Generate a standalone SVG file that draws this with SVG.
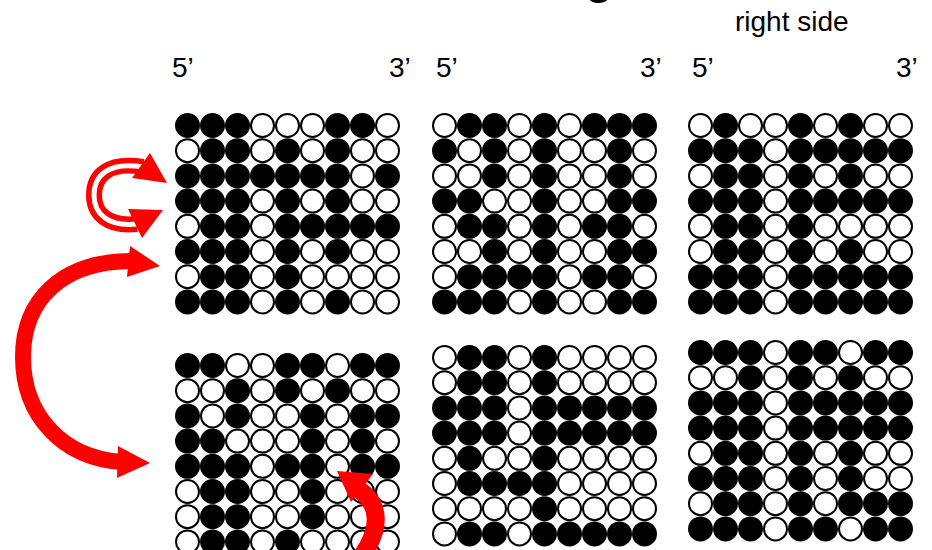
<svg xmlns="http://www.w3.org/2000/svg" width="932" height="550" viewBox="0 0 932 550">
<style>
.b{fill:#000;stroke:#000;stroke-width:2}
.w{fill:#fff;stroke:#000;stroke-width:2}
.lbl{font-family:"Liberation Sans",Arial,sans-serif;font-size:28px;fill:#000}
.arr{fill:none;stroke:#ff0000}
.head{fill:#ff0000}
</style>
<rect width="932" height="550" fill="#fff"/>
<text class="lbl" x="585" y="-7" style="font-size:46px;font-weight:bold">g</text>
<g id="labels">
<text class="lbl" x="735" y="31">right side</text>
<text class="lbl" x="172" y="77">5’</text>
<text class="lbl" x="389" y="77">3’</text>
<text class="lbl" x="436" y="77">5’</text>
<text class="lbl" x="640" y="77">3’</text>
<text class="lbl" x="692" y="77">5’</text>
<text class="lbl" x="896" y="77">3’</text>
</g>
<g id="grid1" transform="translate(187.5,125.5)">
<circle class="b" cx="0" cy="0" r="11.5"/><circle class="b" cx="25" cy="0" r="11.5"/><circle class="b" cx="50" cy="0" r="11.5"/><circle class="w" cx="75" cy="0" r="11.5"/><circle class="w" cx="100" cy="0" r="11.5"/><circle class="w" cx="125" cy="0" r="11.5"/><circle class="b" cx="150" cy="0" r="11.5"/><circle class="b" cx="175" cy="0" r="11.5"/><circle class="w" cx="200" cy="0" r="11.5"/>
<circle class="w" cx="0" cy="25.2" r="11.5"/><circle class="b" cx="25" cy="25.2" r="11.5"/><circle class="b" cx="50" cy="25.2" r="11.5"/><circle class="w" cx="75" cy="25.2" r="11.5"/><circle class="b" cx="100" cy="25.2" r="11.5"/><circle class="w" cx="125" cy="25.2" r="11.5"/><circle class="b" cx="150" cy="25.2" r="11.5"/><circle class="w" cx="175" cy="25.2" r="11.5"/><circle class="w" cx="200" cy="25.2" r="11.5"/>
<circle class="b" cx="0" cy="50.4" r="11.5"/><circle class="b" cx="25" cy="50.4" r="11.5"/><circle class="b" cx="50" cy="50.4" r="11.5"/><circle class="b" cx="75" cy="50.4" r="11.5"/><circle class="b" cx="100" cy="50.4" r="11.5"/><circle class="b" cx="125" cy="50.4" r="11.5"/><circle class="b" cx="150" cy="50.4" r="11.5"/><circle class="w" cx="175" cy="50.4" r="11.5"/><circle class="b" cx="200" cy="50.4" r="11.5"/>
<circle class="b" cx="0" cy="75.6" r="11.5"/><circle class="b" cx="25" cy="75.6" r="11.5"/><circle class="b" cx="50" cy="75.6" r="11.5"/><circle class="w" cx="75" cy="75.6" r="11.5"/><circle class="b" cx="100" cy="75.6" r="11.5"/><circle class="w" cx="125" cy="75.6" r="11.5"/><circle class="b" cx="150" cy="75.6" r="11.5"/><circle class="w" cx="175" cy="75.6" r="11.5"/><circle class="w" cx="200" cy="75.6" r="11.5"/>
<circle class="w" cx="0" cy="100.8" r="11.5"/><circle class="b" cx="25" cy="100.8" r="11.5"/><circle class="b" cx="50" cy="100.8" r="11.5"/><circle class="w" cx="75" cy="100.8" r="11.5"/><circle class="b" cx="100" cy="100.8" r="11.5"/><circle class="b" cx="125" cy="100.8" r="11.5"/><circle class="b" cx="150" cy="100.8" r="11.5"/><circle class="b" cx="175" cy="100.8" r="11.5"/><circle class="b" cx="200" cy="100.8" r="11.5"/>
<circle class="b" cx="0" cy="126" r="11.5"/><circle class="b" cx="25" cy="126" r="11.5"/><circle class="b" cx="50" cy="126" r="11.5"/><circle class="w" cx="75" cy="126" r="11.5"/><circle class="b" cx="100" cy="126" r="11.5"/><circle class="w" cx="125" cy="126" r="11.5"/><circle class="b" cx="150" cy="126" r="11.5"/><circle class="w" cx="175" cy="126" r="11.5"/><circle class="w" cx="200" cy="126" r="11.5"/>
<circle class="w" cx="0" cy="151.2" r="11.5"/><circle class="b" cx="25" cy="151.2" r="11.5"/><circle class="b" cx="50" cy="151.2" r="11.5"/><circle class="w" cx="75" cy="151.2" r="11.5"/><circle class="b" cx="100" cy="151.2" r="11.5"/><circle class="w" cx="125" cy="151.2" r="11.5"/><circle class="w" cx="150" cy="151.2" r="11.5"/><circle class="w" cx="175" cy="151.2" r="11.5"/><circle class="w" cx="200" cy="151.2" r="11.5"/>
<circle class="b" cx="0" cy="176.4" r="11.5"/><circle class="b" cx="25" cy="176.4" r="11.5"/><circle class="b" cx="50" cy="176.4" r="11.5"/><circle class="w" cx="75" cy="176.4" r="11.5"/><circle class="b" cx="100" cy="176.4" r="11.5"/><circle class="w" cx="125" cy="176.4" r="11.5"/><circle class="b" cx="150" cy="176.4" r="11.5"/><circle class="w" cx="175" cy="176.4" r="11.5"/><circle class="w" cx="200" cy="176.4" r="11.5"/>
</g>
<g id="grid2" transform="translate(444.5,125.5)">
<circle class="w" cx="0" cy="0" r="11.5"/><circle class="b" cx="25" cy="0" r="11.5"/><circle class="b" cx="50" cy="0" r="11.5"/><circle class="w" cx="75" cy="0" r="11.5"/><circle class="b" cx="100" cy="0" r="11.5"/><circle class="w" cx="125" cy="0" r="11.5"/><circle class="b" cx="150" cy="0" r="11.5"/><circle class="b" cx="175" cy="0" r="11.5"/><circle class="b" cx="200" cy="0" r="11.5"/>
<circle class="b" cx="0" cy="25.2" r="11.5"/><circle class="w" cx="25" cy="25.2" r="11.5"/><circle class="b" cx="50" cy="25.2" r="11.5"/><circle class="w" cx="75" cy="25.2" r="11.5"/><circle class="b" cx="100" cy="25.2" r="11.5"/><circle class="w" cx="125" cy="25.2" r="11.5"/><circle class="w" cx="150" cy="25.2" r="11.5"/><circle class="b" cx="175" cy="25.2" r="11.5"/><circle class="w" cx="200" cy="25.2" r="11.5"/>
<circle class="w" cx="0" cy="50.4" r="11.5"/><circle class="w" cx="25" cy="50.4" r="11.5"/><circle class="b" cx="50" cy="50.4" r="11.5"/><circle class="w" cx="75" cy="50.4" r="11.5"/><circle class="b" cx="100" cy="50.4" r="11.5"/><circle class="w" cx="125" cy="50.4" r="11.5"/><circle class="w" cx="150" cy="50.4" r="11.5"/><circle class="b" cx="175" cy="50.4" r="11.5"/><circle class="w" cx="200" cy="50.4" r="11.5"/>
<circle class="b" cx="0" cy="75.6" r="11.5"/><circle class="b" cx="25" cy="75.6" r="11.5"/><circle class="w" cx="50" cy="75.6" r="11.5"/><circle class="w" cx="75" cy="75.6" r="11.5"/><circle class="b" cx="100" cy="75.6" r="11.5"/><circle class="w" cx="125" cy="75.6" r="11.5"/><circle class="w" cx="150" cy="75.6" r="11.5"/><circle class="b" cx="175" cy="75.6" r="11.5"/><circle class="b" cx="200" cy="75.6" r="11.5"/>
<circle class="w" cx="0" cy="100.8" r="11.5"/><circle class="b" cx="25" cy="100.8" r="11.5"/><circle class="b" cx="50" cy="100.8" r="11.5"/><circle class="w" cx="75" cy="100.8" r="11.5"/><circle class="b" cx="100" cy="100.8" r="11.5"/><circle class="w" cx="125" cy="100.8" r="11.5"/><circle class="b" cx="150" cy="100.8" r="11.5"/><circle class="b" cx="175" cy="100.8" r="11.5"/><circle class="w" cx="200" cy="100.8" r="11.5"/>
<circle class="w" cx="0" cy="126" r="11.5"/><circle class="w" cx="25" cy="126" r="11.5"/><circle class="b" cx="50" cy="126" r="11.5"/><circle class="w" cx="75" cy="126" r="11.5"/><circle class="b" cx="100" cy="126" r="11.5"/><circle class="w" cx="125" cy="126" r="11.5"/><circle class="w" cx="150" cy="126" r="11.5"/><circle class="b" cx="175" cy="126" r="11.5"/><circle class="b" cx="200" cy="126" r="11.5"/>
<circle class="w" cx="0" cy="151.2" r="11.5"/><circle class="b" cx="25" cy="151.2" r="11.5"/><circle class="b" cx="50" cy="151.2" r="11.5"/><circle class="b" cx="75" cy="151.2" r="11.5"/><circle class="b" cx="100" cy="151.2" r="11.5"/><circle class="w" cx="125" cy="151.2" r="11.5"/><circle class="b" cx="150" cy="151.2" r="11.5"/><circle class="b" cx="175" cy="151.2" r="11.5"/><circle class="w" cx="200" cy="151.2" r="11.5"/>
<circle class="b" cx="0" cy="176.4" r="11.5"/><circle class="b" cx="25" cy="176.4" r="11.5"/><circle class="b" cx="50" cy="176.4" r="11.5"/><circle class="w" cx="75" cy="176.4" r="11.5"/><circle class="b" cx="100" cy="176.4" r="11.5"/><circle class="w" cx="125" cy="176.4" r="11.5"/><circle class="w" cx="150" cy="176.4" r="11.5"/><circle class="b" cx="175" cy="176.4" r="11.5"/><circle class="b" cx="200" cy="176.4" r="11.5"/>
</g>
<g id="grid3" transform="translate(700.5,125.5)">
<circle class="w" cx="0" cy="0" r="11.5"/><circle class="b" cx="25" cy="0" r="11.5"/><circle class="w" cx="50" cy="0" r="11.5"/><circle class="w" cx="75" cy="0" r="11.5"/><circle class="b" cx="100" cy="0" r="11.5"/><circle class="w" cx="125" cy="0" r="11.5"/><circle class="b" cx="150" cy="0" r="11.5"/><circle class="w" cx="175" cy="0" r="11.5"/><circle class="w" cx="200" cy="0" r="11.5"/>
<circle class="b" cx="0" cy="25.2" r="11.5"/><circle class="b" cx="25" cy="25.2" r="11.5"/><circle class="b" cx="50" cy="25.2" r="11.5"/><circle class="w" cx="75" cy="25.2" r="11.5"/><circle class="b" cx="100" cy="25.2" r="11.5"/><circle class="b" cx="125" cy="25.2" r="11.5"/><circle class="b" cx="150" cy="25.2" r="11.5"/><circle class="b" cx="175" cy="25.2" r="11.5"/><circle class="b" cx="200" cy="25.2" r="11.5"/>
<circle class="w" cx="0" cy="50.4" r="11.5"/><circle class="b" cx="25" cy="50.4" r="11.5"/><circle class="b" cx="50" cy="50.4" r="11.5"/><circle class="w" cx="75" cy="50.4" r="11.5"/><circle class="b" cx="100" cy="50.4" r="11.5"/><circle class="w" cx="125" cy="50.4" r="11.5"/><circle class="b" cx="150" cy="50.4" r="11.5"/><circle class="w" cx="175" cy="50.4" r="11.5"/><circle class="w" cx="200" cy="50.4" r="11.5"/>
<circle class="b" cx="0" cy="75.6" r="11.5"/><circle class="b" cx="25" cy="75.6" r="11.5"/><circle class="b" cx="50" cy="75.6" r="11.5"/><circle class="w" cx="75" cy="75.6" r="11.5"/><circle class="b" cx="100" cy="75.6" r="11.5"/><circle class="b" cx="125" cy="75.6" r="11.5"/><circle class="b" cx="150" cy="75.6" r="11.5"/><circle class="b" cx="175" cy="75.6" r="11.5"/><circle class="b" cx="200" cy="75.6" r="11.5"/>
<circle class="w" cx="0" cy="100.8" r="11.5"/><circle class="b" cx="25" cy="100.8" r="11.5"/><circle class="b" cx="50" cy="100.8" r="11.5"/><circle class="w" cx="75" cy="100.8" r="11.5"/><circle class="b" cx="100" cy="100.8" r="11.5"/><circle class="w" cx="125" cy="100.8" r="11.5"/><circle class="w" cx="150" cy="100.8" r="11.5"/><circle class="w" cx="175" cy="100.8" r="11.5"/><circle class="w" cx="200" cy="100.8" r="11.5"/>
<circle class="w" cx="0" cy="126" r="11.5"/><circle class="b" cx="25" cy="126" r="11.5"/><circle class="b" cx="50" cy="126" r="11.5"/><circle class="w" cx="75" cy="126" r="11.5"/><circle class="b" cx="100" cy="126" r="11.5"/><circle class="w" cx="125" cy="126" r="11.5"/><circle class="b" cx="150" cy="126" r="11.5"/><circle class="w" cx="175" cy="126" r="11.5"/><circle class="w" cx="200" cy="126" r="11.5"/>
<circle class="b" cx="0" cy="151.2" r="11.5"/><circle class="b" cx="25" cy="151.2" r="11.5"/><circle class="b" cx="50" cy="151.2" r="11.5"/><circle class="w" cx="75" cy="151.2" r="11.5"/><circle class="b" cx="100" cy="151.2" r="11.5"/><circle class="b" cx="125" cy="151.2" r="11.5"/><circle class="b" cx="150" cy="151.2" r="11.5"/><circle class="b" cx="175" cy="151.2" r="11.5"/><circle class="b" cx="200" cy="151.2" r="11.5"/>
<circle class="b" cx="0" cy="176.4" r="11.5"/><circle class="b" cx="25" cy="176.4" r="11.5"/><circle class="b" cx="50" cy="176.4" r="11.5"/><circle class="w" cx="75" cy="176.4" r="11.5"/><circle class="b" cx="100" cy="176.4" r="11.5"/><circle class="b" cx="125" cy="176.4" r="11.5"/><circle class="b" cx="150" cy="176.4" r="11.5"/><circle class="b" cx="175" cy="176.4" r="11.5"/><circle class="b" cx="200" cy="176.4" r="11.5"/>
</g>
<g id="grid4" transform="translate(187.5,365.5)">
<circle class="b" cx="0" cy="0" r="11.5"/><circle class="b" cx="25" cy="0" r="11.5"/><circle class="w" cx="50" cy="0" r="11.5"/><circle class="w" cx="75" cy="0" r="11.5"/><circle class="b" cx="100" cy="0" r="11.5"/><circle class="b" cx="125" cy="0" r="11.5"/><circle class="w" cx="150" cy="0" r="11.5"/><circle class="b" cx="175" cy="0" r="11.5"/><circle class="b" cx="200" cy="0" r="11.5"/>
<circle class="w" cx="0" cy="25.2" r="11.5"/><circle class="w" cx="25" cy="25.2" r="11.5"/><circle class="b" cx="50" cy="25.2" r="11.5"/><circle class="w" cx="75" cy="25.2" r="11.5"/><circle class="b" cx="100" cy="25.2" r="11.5"/><circle class="w" cx="125" cy="25.2" r="11.5"/><circle class="b" cx="150" cy="25.2" r="11.5"/><circle class="w" cx="175" cy="25.2" r="11.5"/><circle class="w" cx="200" cy="25.2" r="11.5"/>
<circle class="b" cx="0" cy="50.4" r="11.5"/><circle class="w" cx="25" cy="50.4" r="11.5"/><circle class="b" cx="50" cy="50.4" r="11.5"/><circle class="w" cx="75" cy="50.4" r="11.5"/><circle class="w" cx="100" cy="50.4" r="11.5"/><circle class="b" cx="125" cy="50.4" r="11.5"/><circle class="w" cx="150" cy="50.4" r="11.5"/><circle class="b" cx="175" cy="50.4" r="11.5"/><circle class="b" cx="200" cy="50.4" r="11.5"/>
<circle class="b" cx="0" cy="75.6" r="11.5"/><circle class="b" cx="25" cy="75.6" r="11.5"/><circle class="w" cx="50" cy="75.6" r="11.5"/><circle class="w" cx="75" cy="75.6" r="11.5"/><circle class="w" cx="100" cy="75.6" r="11.5"/><circle class="b" cx="125" cy="75.6" r="11.5"/><circle class="w" cx="150" cy="75.6" r="11.5"/><circle class="b" cx="175" cy="75.6" r="11.5"/><circle class="w" cx="200" cy="75.6" r="11.5"/>
<circle class="b" cx="0" cy="100.8" r="11.5"/><circle class="b" cx="25" cy="100.8" r="11.5"/><circle class="b" cx="50" cy="100.8" r="11.5"/><circle class="w" cx="75" cy="100.8" r="11.5"/><circle class="b" cx="100" cy="100.8" r="11.5"/><circle class="b" cx="125" cy="100.8" r="11.5"/><circle class="w" cx="150" cy="100.8" r="11.5"/><circle class="b" cx="175" cy="100.8" r="11.5"/><circle class="b" cx="200" cy="100.8" r="11.5"/>
<circle class="w" cx="0" cy="126" r="11.5"/><circle class="b" cx="25" cy="126" r="11.5"/><circle class="b" cx="50" cy="126" r="11.5"/><circle class="w" cx="75" cy="126" r="11.5"/><circle class="w" cx="100" cy="126" r="11.5"/><circle class="b" cx="125" cy="126" r="11.5"/><circle class="w" cx="150" cy="126" r="11.5"/><circle class="w" cx="175" cy="126" r="11.5"/><circle class="w" cx="200" cy="126" r="11.5"/>
<circle class="w" cx="0" cy="151.2" r="11.5"/><circle class="b" cx="25" cy="151.2" r="11.5"/><circle class="b" cx="50" cy="151.2" r="11.5"/><circle class="w" cx="75" cy="151.2" r="11.5"/><circle class="w" cx="100" cy="151.2" r="11.5"/><circle class="b" cx="125" cy="151.2" r="11.5"/><circle class="w" cx="150" cy="151.2" r="11.5"/><circle class="w" cx="175" cy="151.2" r="11.5"/><circle class="w" cx="200" cy="151.2" r="11.5"/>
<circle class="w" cx="0" cy="176.4" r="11.5"/><circle class="b" cx="25" cy="176.4" r="11.5"/><circle class="b" cx="50" cy="176.4" r="11.5"/><circle class="w" cx="75" cy="176.4" r="11.5"/><circle class="b" cx="100" cy="176.4" r="11.5"/><circle class="w" cx="125" cy="176.4" r="11.5"/><circle class="w" cx="150" cy="176.4" r="11.5"/><circle class="w" cx="175" cy="176.4" r="11.5"/><circle class="w" cx="200" cy="176.4" r="11.5"/>
</g>
<g id="grid5" transform="translate(444.5,357.5)">
<circle class="w" cx="0" cy="0" r="11.5"/><circle class="b" cx="25" cy="0" r="11.5"/><circle class="b" cx="50" cy="0" r="11.5"/><circle class="w" cx="75" cy="0" r="11.5"/><circle class="b" cx="100" cy="0" r="11.5"/><circle class="w" cx="125" cy="0" r="11.5"/><circle class="w" cx="150" cy="0" r="11.5"/><circle class="w" cx="175" cy="0" r="11.5"/><circle class="w" cx="200" cy="0" r="11.5"/>
<circle class="w" cx="0" cy="25.2" r="11.5"/><circle class="b" cx="25" cy="25.2" r="11.5"/><circle class="b" cx="50" cy="25.2" r="11.5"/><circle class="w" cx="75" cy="25.2" r="11.5"/><circle class="b" cx="100" cy="25.2" r="11.5"/><circle class="w" cx="125" cy="25.2" r="11.5"/><circle class="w" cx="150" cy="25.2" r="11.5"/><circle class="w" cx="175" cy="25.2" r="11.5"/><circle class="w" cx="200" cy="25.2" r="11.5"/>
<circle class="b" cx="0" cy="50.4" r="11.5"/><circle class="b" cx="25" cy="50.4" r="11.5"/><circle class="b" cx="50" cy="50.4" r="11.5"/><circle class="w" cx="75" cy="50.4" r="11.5"/><circle class="b" cx="100" cy="50.4" r="11.5"/><circle class="b" cx="125" cy="50.4" r="11.5"/><circle class="b" cx="150" cy="50.4" r="11.5"/><circle class="b" cx="175" cy="50.4" r="11.5"/><circle class="b" cx="200" cy="50.4" r="11.5"/>
<circle class="b" cx="0" cy="75.6" r="11.5"/><circle class="b" cx="25" cy="75.6" r="11.5"/><circle class="b" cx="50" cy="75.6" r="11.5"/><circle class="w" cx="75" cy="75.6" r="11.5"/><circle class="b" cx="100" cy="75.6" r="11.5"/><circle class="b" cx="125" cy="75.6" r="11.5"/><circle class="b" cx="150" cy="75.6" r="11.5"/><circle class="b" cx="175" cy="75.6" r="11.5"/><circle class="b" cx="200" cy="75.6" r="11.5"/>
<circle class="w" cx="0" cy="100.8" r="11.5"/><circle class="b" cx="25" cy="100.8" r="11.5"/><circle class="w" cx="50" cy="100.8" r="11.5"/><circle class="w" cx="75" cy="100.8" r="11.5"/><circle class="b" cx="100" cy="100.8" r="11.5"/><circle class="w" cx="125" cy="100.8" r="11.5"/><circle class="w" cx="150" cy="100.8" r="11.5"/><circle class="w" cx="175" cy="100.8" r="11.5"/><circle class="w" cx="200" cy="100.8" r="11.5"/>
<circle class="w" cx="0" cy="126" r="11.5"/><circle class="b" cx="25" cy="126" r="11.5"/><circle class="b" cx="50" cy="126" r="11.5"/><circle class="b" cx="75" cy="126" r="11.5"/><circle class="b" cx="100" cy="126" r="11.5"/><circle class="w" cx="125" cy="126" r="11.5"/><circle class="w" cx="150" cy="126" r="11.5"/><circle class="w" cx="175" cy="126" r="11.5"/><circle class="w" cx="200" cy="126" r="11.5"/>
<circle class="w" cx="0" cy="151.2" r="11.5"/><circle class="w" cx="25" cy="151.2" r="11.5"/><circle class="w" cx="50" cy="151.2" r="11.5"/><circle class="w" cx="75" cy="151.2" r="11.5"/><circle class="b" cx="100" cy="151.2" r="11.5"/><circle class="w" cx="125" cy="151.2" r="11.5"/><circle class="w" cx="150" cy="151.2" r="11.5"/><circle class="w" cx="175" cy="151.2" r="11.5"/><circle class="w" cx="200" cy="151.2" r="11.5"/>
<circle class="w" cx="0" cy="176.4" r="11.5"/><circle class="b" cx="25" cy="176.4" r="11.5"/><circle class="b" cx="50" cy="176.4" r="11.5"/><circle class="w" cx="75" cy="176.4" r="11.5"/><circle class="b" cx="100" cy="176.4" r="11.5"/><circle class="b" cx="125" cy="176.4" r="11.5"/><circle class="b" cx="150" cy="176.4" r="11.5"/><circle class="b" cx="175" cy="176.4" r="11.5"/><circle class="b" cx="200" cy="176.4" r="11.5"/>
</g>
<g id="grid6" transform="translate(700.5,352.5)">
<circle class="b" cx="0" cy="0" r="11.5"/><circle class="b" cx="25" cy="0" r="11.5"/><circle class="b" cx="50" cy="0" r="11.5"/><circle class="w" cx="75" cy="0" r="11.5"/><circle class="b" cx="100" cy="0" r="11.5"/><circle class="b" cx="125" cy="0" r="11.5"/><circle class="w" cx="150" cy="0" r="11.5"/><circle class="b" cx="175" cy="0" r="11.5"/><circle class="b" cx="200" cy="0" r="11.5"/>
<circle class="w" cx="0" cy="25.2" r="11.5"/><circle class="w" cx="25" cy="25.2" r="11.5"/><circle class="b" cx="50" cy="25.2" r="11.5"/><circle class="w" cx="75" cy="25.2" r="11.5"/><circle class="b" cx="100" cy="25.2" r="11.5"/><circle class="w" cx="125" cy="25.2" r="11.5"/><circle class="b" cx="150" cy="25.2" r="11.5"/><circle class="w" cx="175" cy="25.2" r="11.5"/><circle class="w" cx="200" cy="25.2" r="11.5"/>
<circle class="b" cx="0" cy="50.4" r="11.5"/><circle class="b" cx="25" cy="50.4" r="11.5"/><circle class="b" cx="50" cy="50.4" r="11.5"/><circle class="w" cx="75" cy="50.4" r="11.5"/><circle class="b" cx="100" cy="50.4" r="11.5"/><circle class="b" cx="125" cy="50.4" r="11.5"/><circle class="b" cx="150" cy="50.4" r="11.5"/><circle class="b" cx="175" cy="50.4" r="11.5"/><circle class="b" cx="200" cy="50.4" r="11.5"/>
<circle class="b" cx="0" cy="75.6" r="11.5"/><circle class="b" cx="25" cy="75.6" r="11.5"/><circle class="b" cx="50" cy="75.6" r="11.5"/><circle class="w" cx="75" cy="75.6" r="11.5"/><circle class="b" cx="100" cy="75.6" r="11.5"/><circle class="b" cx="125" cy="75.6" r="11.5"/><circle class="b" cx="150" cy="75.6" r="11.5"/><circle class="b" cx="175" cy="75.6" r="11.5"/><circle class="b" cx="200" cy="75.6" r="11.5"/>
<circle class="w" cx="0" cy="100.8" r="11.5"/><circle class="b" cx="25" cy="100.8" r="11.5"/><circle class="b" cx="50" cy="100.8" r="11.5"/><circle class="w" cx="75" cy="100.8" r="11.5"/><circle class="b" cx="100" cy="100.8" r="11.5"/><circle class="w" cx="125" cy="100.8" r="11.5"/><circle class="b" cx="150" cy="100.8" r="11.5"/><circle class="w" cx="175" cy="100.8" r="11.5"/><circle class="w" cx="200" cy="100.8" r="11.5"/>
<circle class="b" cx="0" cy="126" r="11.5"/><circle class="b" cx="25" cy="126" r="11.5"/><circle class="b" cx="50" cy="126" r="11.5"/><circle class="w" cx="75" cy="126" r="11.5"/><circle class="b" cx="100" cy="126" r="11.5"/><circle class="w" cx="125" cy="126" r="11.5"/><circle class="b" cx="150" cy="126" r="11.5"/><circle class="w" cx="175" cy="126" r="11.5"/><circle class="w" cx="200" cy="126" r="11.5"/>
<circle class="w" cx="0" cy="151.2" r="11.5"/><circle class="b" cx="25" cy="151.2" r="11.5"/><circle class="b" cx="50" cy="151.2" r="11.5"/><circle class="w" cx="75" cy="151.2" r="11.5"/><circle class="b" cx="100" cy="151.2" r="11.5"/><circle class="w" cx="125" cy="151.2" r="11.5"/><circle class="b" cx="150" cy="151.2" r="11.5"/><circle class="b" cx="175" cy="151.2" r="11.5"/><circle class="b" cx="200" cy="151.2" r="11.5"/>
<circle class="b" cx="0" cy="176.4" r="11.5"/><circle class="b" cx="25" cy="176.4" r="11.5"/><circle class="b" cx="50" cy="176.4" r="11.5"/><circle class="w" cx="75" cy="176.4" r="11.5"/><circle class="b" cx="100" cy="176.4" r="11.5"/><circle class="b" cx="125" cy="176.4" r="11.5"/><circle class="w" cx="150" cy="176.4" r="11.5"/><circle class="b" cx="175" cy="176.4" r="11.5"/><circle class="b" cx="200" cy="176.4" r="11.5"/>
</g>
<g id="connectors">
<path class="arr" stroke-width="16" d="M143,167 C108,161 94,176 94,195 C94,214 108,227 137,224"/>
<path class="arr" style="stroke:#fff" stroke-width="5" d="M143,167 C108,161 94,176 94,195 C94,214 108,227 137,224"/>
<polygon class="head" points="150,153 167,183 132,178"/>
<polygon class="head" points="128,209 163,210 142,238"/>
<path class="arr" stroke-width="16" d="M132,261 C62,261 23,300 23,357 C23,415 62,458 122,462"/>
<polygon class="head" points="160,266 130,246 127,277"/>
<polygon class="head" points="150,463 118,446 117,478"/>
<path class="arr" stroke-width="18" d="M362,556 C380,530 382,505 358,489"/>
<polygon class="head" points="337,471 373,474 351,502"/>
</g>
</svg>
